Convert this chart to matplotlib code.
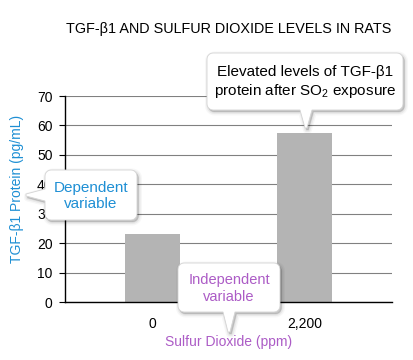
import matplotlib
matplotlib.use("Agg")
import matplotlib.pyplot as plt
import numpy as np
from matplotlib.patches import Polygon

plt.rcParams['font.family'] = ['Liberation Sans', 'DejaVu Sans']
plt.rcParams['mathtext.default'] = 'regular'

# data
categories = ['0', '2,200']
tgf_levels = [23, 57.5]
yticks = [0, 10, 20, 30, 40, 50, 60, 70]

BLUE = '#1e8fd4'
PURPLE = '#ac5cc6'
BAR = '#b4b4b4'


def arc(cx, cy, r, a0, a1, n=6):
	a = np.radians(np.linspace(a0, a1, n))
	return list(zip(cx + r * np.cos(a), cy + r * np.sin(a)))


def callout_shape(x0, y0, x1, y1, tip, side, r=6, half=6):
	"""rounded box (pixel coords, y down) with a pointer on bottom or left"""
	tx, ty = tip
	pts = arc(x1 - r, y0 + r, r, -90, 0)
	pts += arc(x1 - r, y1 - r, r, 0, 90)
	if side == 'bottom':
		pts += [(tx + half, y1), (tx + 1, ty), (tx - 1, ty), (tx - half, y1)]
	pts += arc(x0 + r, y1 - r, r, 90, 180)
	if side == 'left':
		pts += [(x0, ty + half), (tx, ty + 1), (tx, ty - 1), (x0, ty - half)]
	pts += arc(x0 + r, y0 + r, r, 180, 270)
	return pts


def callout(ax, box, tip, side, text, color, size):
	x0, y0, x1, y1 = box
	pts = np.array(callout_shape(x0, y0, x1, y1, tip, side))
	# soft shadow
	for lw, al in [(5, 0.03), (3, 0.05), (1, 0.08)]:
		ax.add_patch(Polygon(pts + [1.5, 2], closed=True, facecolor='k', alpha=al,
							 edgecolor='k', lw=lw, joinstyle='round'))
	ax.add_patch(Polygon(pts, closed=True, facecolor='white', edgecolor='#d4d4d4', lw=0.6))
	ax.text((x0 + x1) / 2, (y0 + y1) / 2 + 1, text, ha='center', va='center',
			color=color, fontsize=size, linespacing=1.25)


fig = plt.figure(figsize=(4.14, 3.6), dpi=100)
ax = fig.add_axes([65 / 414, 1 - 302 / 360, 327 / 414, 206 / 360])

x = np.arange(len(categories))
ax.bar(x, tgf_levels, width=0.36, color=BAR, zorder=3)
ax.set_xlim(-0.57, 1.57)
ax.set_ylim(0, 70)
ax.set_yticks(yticks)
ax.set_xticks(x)
ax.set_xticklabels(categories)
ax.grid(axis='y', color='#808080', lw=0.8, zorder=0)
ax.tick_params(axis='y', length=4, width=0.8, pad=5, labelsize=10)
ax.tick_params(axis='x', length=0, pad=11, labelsize=10)
for s in ['top', 'right']:
	ax.spines[s].set_visible(False)
for s in ['left', 'bottom']:
	ax.spines[s].set_linewidth(1.0)
	ax.spines[s].set_zorder(4)

ax.set_ylabel('TGF-β1 Protein (pg/mL)', color=BLUE, fontsize=10)
ax.yaxis.set_label_coords(-0.125, 0.55)
ax.set_xlabel('Sulfur Dioxide (ppm)', color=PURPLE, fontsize=10)
ax.xaxis.set_label_coords(0.5, -0.16)

fig.text(229 / 414, 1 - 29 / 360, 'TGF-β1 AND SULFUR DIOXIDE LEVELS IN RATS',
		 ha='center', va='center', fontsize=10.4)

# overlay for callouts, pixel coordinates
ov = fig.add_axes([0, 0, 1, 1], zorder=10)
ov.set_xlim(0, 414)
ov.set_ylim(360, 0)
ov.axis('off')

callout(ov, (207, 53, 403, 110), (306, 128), 'bottom',
		'Elevated levels of TGF-β1\nprotein after SO$_2$ exposure', 'black', 11)
callout(ov, (45, 170, 137, 220), (26, 195), 'left',
		'Dependent\nvariable', BLUE, 11)
callout(ov, (178, 263, 280, 312), (229, 332), 'bottom',
		'Independent\nvariable', PURPLE, 10.5)

fig.savefig('out.png', dpi=100)
